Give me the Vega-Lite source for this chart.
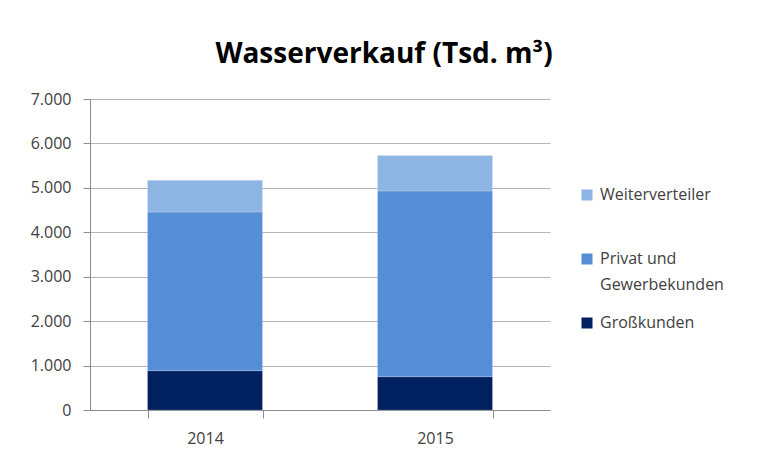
{
  "$schema": "https://vega.github.io/schema/vega-lite/v6.json",
  "autosize": {"type": "none"},
  "width": 460,
  "height": 311,
  "padding": {"left": 90, "top": 99, "right": 212, "bottom": 42},
  "background": "white",
  "title": {
    "text": "Wasserverkauf (Tsd. m³)",
    "font": "Open Sans",
    "fontSize": 28,
    "fontWeight": "bold",
    "color": "#000000",
    "anchor": "middle",
    "frame": "group",
    "dx": 64,
    "dy": 27,
    "baseline": "alphabetic",
    "offset": 27
  },
  "data": {
    "values": [
      {"jahr": "2014", "kategorie": "Großkunden", "wert": 885, "reihenfolge": 1},
      {"jahr": "2014", "kategorie": "Privat und Gewerbekunden", "wert": 3570, "reihenfolge": 2},
      {"jahr": "2014", "kategorie": "Weiterverteiler", "wert": 715, "reihenfolge": 3},
      {"jahr": "2015", "kategorie": "Großkunden", "wert": 750, "reihenfolge": 1},
      {"jahr": "2015", "kategorie": "Privat und Gewerbekunden", "wert": 4180, "reihenfolge": 2},
      {"jahr": "2015", "kategorie": "Weiterverteiler", "wert": 800, "reihenfolge": 3}
    ]
  },
  "mark": {"type": "bar", "stroke": "#ffffff", "strokeWidth": 0.5, "strokeOpacity": 0.4},
  "encoding": {
    "x": {
      "field": "jahr",
      "type": "nominal",
      "scale": {"paddingInner": 0.5, "paddingOuter": 0.25},
      "axis": {
        "title": null,
        "labelAngle": 0,
        "labelFont": "Open Sans",
        "labelFontSize": 16,
        "labelColor": "#404040",
        "labelPadding": 12,
        "domainColor": "#8c8c8c",
        "tickColor": "#8c8c8c",
        "tickSize": 8,
        "tickBand": "extent"
      }
    },
    "y": {
      "field": "wert",
      "type": "quantitative",
      "aggregate": "sum",
      "stack": "zero",
      "scale": {"domain": [0, 7000], "nice": false},
      "axis": {
        "title": null,
        "values": [0, 1000, 2000, 3000, 4000, 5000, 6000, 7000],
        "labelExpr": "replace(format(datum.value, ','), ',', '.')",
        "labelFont": "Open Sans",
        "labelFontSize": 16,
        "labelColor": "#404040",
        "labelPadding": 12,
        "tickSize": 7,
        "tickColor": "#8c8c8c",
        "domainColor": "#8c8c8c",
        "gridColor": "#b4b4b4",
        "gridWidth": 1.2
      }
    },
    "color": {
      "field": "kategorie",
      "type": "nominal",
      "scale": {
        "domain": ["Weiterverteiler", "Privat und Gewerbekunden", "Großkunden"],
        "range": ["#8eb4e3", "#558ed5", "#002060"]
      },
      "legend": {
        "title": null,
        "orient": "none",
        "legendX": 489,
        "legendY": 88,
        "symbolType": "square",
        "symbolSize": 121,
        "symbolStrokeWidth": 0,
        "symbolOpacity": 1,
        "labelFont": "Open Sans",
        "labelFontSize": 16,
        "labelColor": "#404040",
        "labelOffset": 5,
        "labelLimit": 300,
        "rowPadding": 22,
        "labelExpr": "datum.label == 'Privat und Gewerbekunden' ? ['Privat und', 'Gewerbekunden'] : [datum.label, ' ']"
      }
    },
    "order": {"field": "reihenfolge", "type": "quantitative", "sort": "ascending"}
  },
  "config": {
    "view": {"stroke": null},
    "style": {"guide-label": {"lineHeight": 26}}
  }
}
